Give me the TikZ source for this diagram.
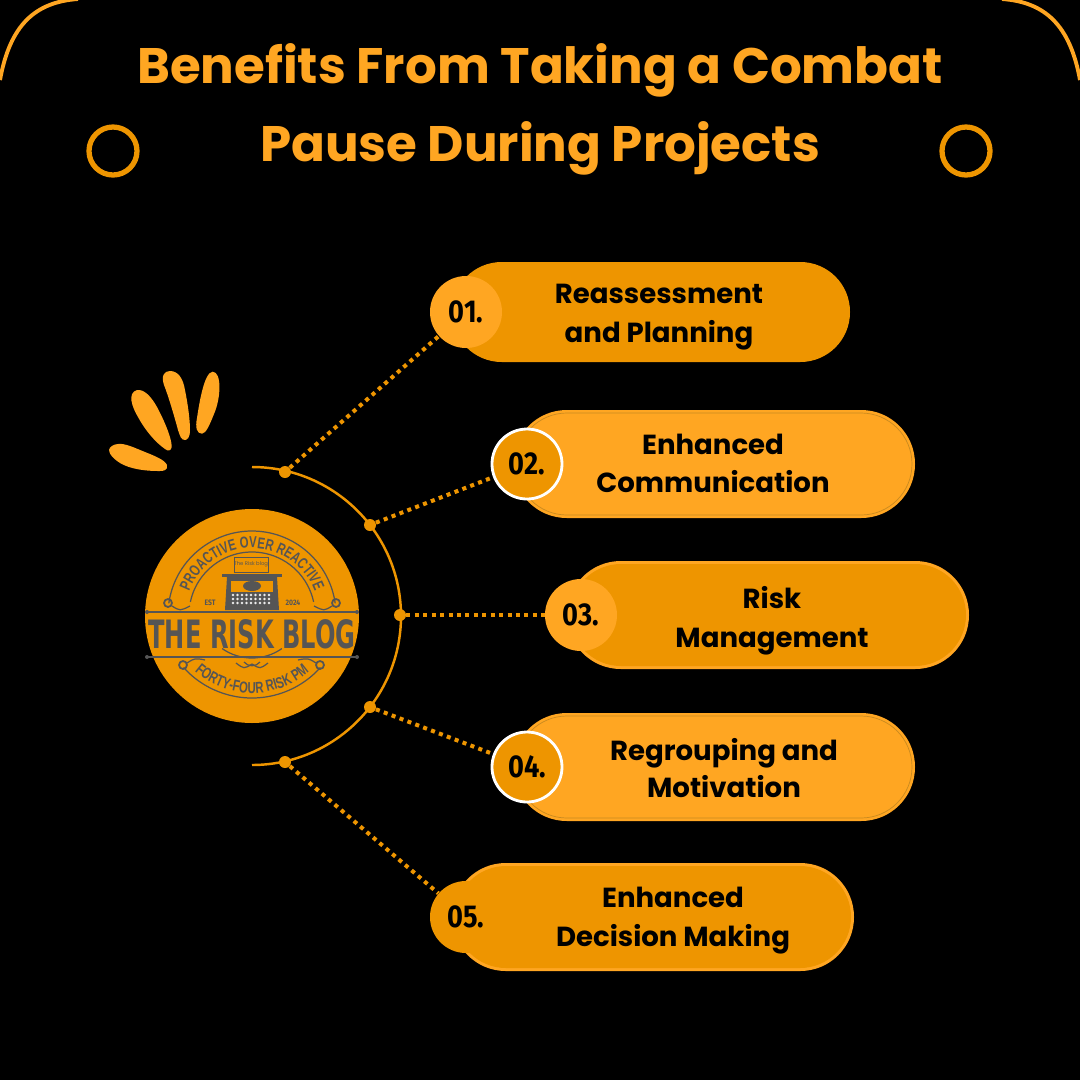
\documentclass[tikz,border=0pt]{standalone}
\usepackage{fontspec}
\usepackage{graphicx}
\usetikzlibrary{decorations.text}
\setmainfont{Poppins}
\newfontfamily\numfont[FakeStretch=0.86]{Fira Sans}
\newfontfamily\logofont[FakeStretch=0.72]{Liberation Sans}
\newfontfamily\logoname{DejaVu Sans}

\begin{document}
\begin{tikzpicture}[x=0.02cm,y=-0.02cm]
    \definecolor{darkamber}{HTML}{EE9500}
    \definecolor{lightamber}{HTML}{FFA622}
    \definecolor{pillline}{HTML}{C98A20}
    \definecolor{logogray}{HTML}{555555}

    \def\arcradius{149}

    \tikzset{
        titletext/.style={text=lightamber, font=\fontsize{28.4}{30}\selectfont\bfseries, inner sep=0pt, anchor=base},
        pilltext/.style={text=black, font=\fontsize{15.7}{18}\selectfont\bfseries, inner sep=0pt, anchor=base},
        pilldark/.style={fill=darkamber, rounded corners=28.3pt, minimum width=398*0.02cm, minimum height=100*0.02cm, inner sep=0pt},
        pilllight/.style={fill=lightamber, rounded corners=30.6pt, minimum width=402*0.02cm, minimum height=108*0.02cm, inner sep=0pt},
        pillinner/.style={draw=pillline, line width=0.4pt, rounded corners=29pt, minimum width=396*0.02cm, minimum height=102*0.02cm, inner sep=0pt},
        numdisc/.style={circle, fill=lightamber, minimum size=72*0.02cm, inner sep=0pt, text=black, font=\numfont\fontsize{18}{20}\selectfont\bfseries},
        numring/.style={numdisc, fill=darkamber, draw=white, line width=1.6pt, minimum size=70*0.02cm},
        armdot/.style={circle, fill=darkamber, minimum size=12*0.02cm, inner sep=0pt},
        dotline/.style={darkamber, line width=2.3pt, dash pattern=on 2.3pt off 2.5pt},
        petal/.style={fill=lightamber},
        logotiny/.style={text=logogray, inner sep=0pt, font=\numfont\fontsize{4.5}{5}\selectfont\bfseries},
        logoline/.style={draw=logogray, line width=0.7pt},
    }

    \fill[black] (0,0) rectangle (1080,1080);
    \useasboundingbox (0,0) rectangle (1080,1080);

    % frame corners
    \draw[lightamber, line width=2.2pt] (0,80) .. controls (10,25) and (35,2) .. (78,-1);
    \draw[lightamber, line width=2.2pt] (1080,80) .. controls (1070,25) and (1045,2) .. (1002,-1);
    \node[draw=darkamber, line width=3pt, circle, minimum size=48*0.02cm, inner sep=0pt] (ringleft) at (113,151) {};
    \node[draw=darkamber, line width=3pt, circle, minimum size=48*0.02cm, inner sep=0pt] (ringright) at (966,151) {};

    % title
    \node[titletext] (titleone) at (540,83) {Benefits From Taking a Combat};
    \node[titletext] (titletwo) at (540,161) {Pause During Projects};

    % petals
    \fill[petal] (212.7,371.7) .. controls (222,372) and (221,398) .. (214,414) .. controls (210,424) and (206,433.7) .. (202,433.7) .. controls (197,433.7) and (195,428) .. (197,418) .. controls (199,405) and (204,372) .. (212.7,371.7) -- cycle;
    \fill[petal] (170,371) .. controls (178,371) and (183,378) .. (185,390) .. controls (188,405) and (190,420) .. (190,430) .. controls (190,438) and (187,440) .. (185,440) .. controls (181,440) and (180,436) .. (178,430) .. controls (174,415) and (168,395) .. (164,385) .. controls (161,376) and (164,371) .. (170,371) -- cycle;
    \fill[petal] (137,390) .. controls (145,389) and (152,398) .. (157,407) .. controls (163,418) and (172,438) .. (171.7,447) .. controls (171,451) and (168,451.5) .. (165,449) .. controls (155,442) and (145,430) .. (138,417) .. controls (132,407) and (127,393) .. (137,390) -- cycle;
    \fill[petal] (118,444) .. controls (125,443) and (135,448) .. (145,452) .. controls (155,456) and (165,460) .. (167,465) .. controls (168,470) and (164,471.5) .. (158,471) .. controls (145,471) and (130,469) .. (120,463) .. controls (112,458) and (105,450) .. (112,446) .. controls (113,445) and (116,444) .. (118,444) -- cycle;

    % logo
    \node[circle, fill=darkamber, minimum size=214*0.02cm, inner sep=0pt] (logo) at (252,616) {};
    \draw[logoline] (252,615) ++(-172:84) arc (-172:-8:84);
    \draw[logoline] (252,615) ++(-168:63) arc (-168:-12:63);
    \path[decorate, decoration={text along path, text align=center, text={|\logofont\fontsize{9}{10}\selectfont\bfseries\color{logogray}|PROACTIVE OVER REACTIVE}}]
        (252,615) ++(-180:67) arc (-180:0:67);
    \draw[logoline] (252,606) ++(138:92) arc (138:42:92);
    \draw[logoline] (252,606) ++(125:52) arc (125:55:52);
    \path[decorate, decoration={text along path, text align=center, text={|\logofont\fontsize{9}{10}\selectfont\bfseries\color{logogray}|FORTY-FOUR RISK PM}}]
        (252,606) ++(150:87) arc (150:30:87);
    \draw[logoline] (147,612) -- (357,612);
    \draw[logoline] (147,657) -- (357,657);
    \fill[logogray] (147,612) circle (2) (357,612) circle (2) (147,657) circle (2) (357,657) circle (2);
    \node[inner sep=0pt, text=logogray] (logotitle) at (252,634) {\resizebox{4.14cm}{0.58cm}{\logoname\bfseries THE RISK BLOG}};
    \node[logotiny] (logoest) at (210,603) {EST};
    \node[logotiny] (logoyear) at (293,603) {2024};
    % typewriter
    \draw[logogray, fill=darkamber, line width=0.5pt] (234,557) rectangle (268,572);
    \node[logotiny, font=\fontsize{3}{4}\selectfont] (logopaper) at (251,564.5) {The Risk blog};
    \fill[logogray] (222,574) rectangle (282,577);
    \fill[logogray] (227,577) -- (277,577) -- (279,610) -- (225,610) -- cycle;
    \fill[darkamber] (231,581) rectangle (273,592);
    \fill[logogray] (252,586) ellipse (9 and 5);
    \foreach \keyrow in {595,599,603} {
        \foreach \keycol in {233,237.5,...,271} {
            \fill[white!85!gray] (\keycol,\keyrow) circle (1.4);
        }
    }
    % scrolls
    \draw[logoline, line width=1pt] (168,603) circle (4) (336,603) circle (4) (183,665) circle (4) (320,665) circle (4);
    \draw[logoline] (172,606) .. controls (180,611) .. (190,606) (332,606) .. controls (324,611) .. (314,606);
    \draw[logoline] (187,663) .. controls (195,658) .. (205,660) (316,663) .. controls (308,658) .. (298,660);
    \draw[logoline] (236,663) .. controls (244,669) .. (252,664) .. controls (260,669) .. (268,663);
    \draw[logoline] (244,662) .. controls (248,667) and (256,667) .. (260,662);

    % arc and connectors
    \draw[darkamber, line width=1.4pt] (252,467) arc (-90:90:\arcradius);

    \node[armdot] (dotone) at (285,472) {};
    \node[armdot] (dottwo) at (370,525) {};
    \node[armdot] (dotthree) at (400,615) {};
    \node[armdot] (dotfour) at (370,707) {};
    \node[armdot] (dotfive) at (285,762) {};

    \node[pilldark] (pillone) at (651,312) {};
    \node[pilllight] (pilltwo) at (714,464) {};
    \node[pillinner] (pilltwoline) at (714,464) {};
    \node[pilllight] (pillthree) at (768,615) {};
    \node[pilldark, minimum width=396*0.02cm, minimum height=102*0.02cm, rounded corners=29pt] (pillthreefill) at (768,615) {};
    \node[pilllight] (pillfour) at (714,767) {};
    \node[pillinner] (pillfourline) at (714,767) {};
    \node[pilllight] (pillfive) at (653,917) {};
    \node[pilldark, minimum width=396*0.02cm, minimum height=102*0.02cm, rounded corners=29pt] (pillfivefill) at (653,917) {};

    \node[numdisc] (numone) at (466,312) {01.};
    \node[numring] (numtwo) at (527,464) {02.};
    \node[numdisc] (numthree) at (581,615) {03.};
    \node[numring] (numfour) at (527,767) {04.};
    \node[numdisc, fill=darkamber] (numfive) at (466,917) {05.};

    \draw[dotline] (dotone) -- (numone);
    \draw[dotline] (dottwo) -- (numtwo);
    \draw[dotline] (dotthree) -- (numthree);
    \draw[dotline] (dotfour) -- (numfour);
    \draw[dotline] (dotfive) -- (numfive);

    \node[pilltext] (textonea) at (659,303) {Reassessment};
    \node[pilltext] (textoneb) at (659,342) {and Planning};
    \node[pilltext] (texttwoa) at (713,454) {Enhanced};
    \node[pilltext] (texttwob) at (713,492) {Communication};
    \node[pilltext] (textthreea) at (772,608) {Risk};
    \node[pilltext] (textthreeb) at (772,647) {Management};
    \node[pilltext] (textfoura) at (724,760) {Regrouping and};
    \node[pilltext] (textfourb) at (724,797) {Motivation};
    \node[pilltext] (textfivea) at (673,907) {Enhanced};
    \node[pilltext] (textfiveb) at (673,946) {Decision Making};
\end{tikzpicture}
\end{document}
